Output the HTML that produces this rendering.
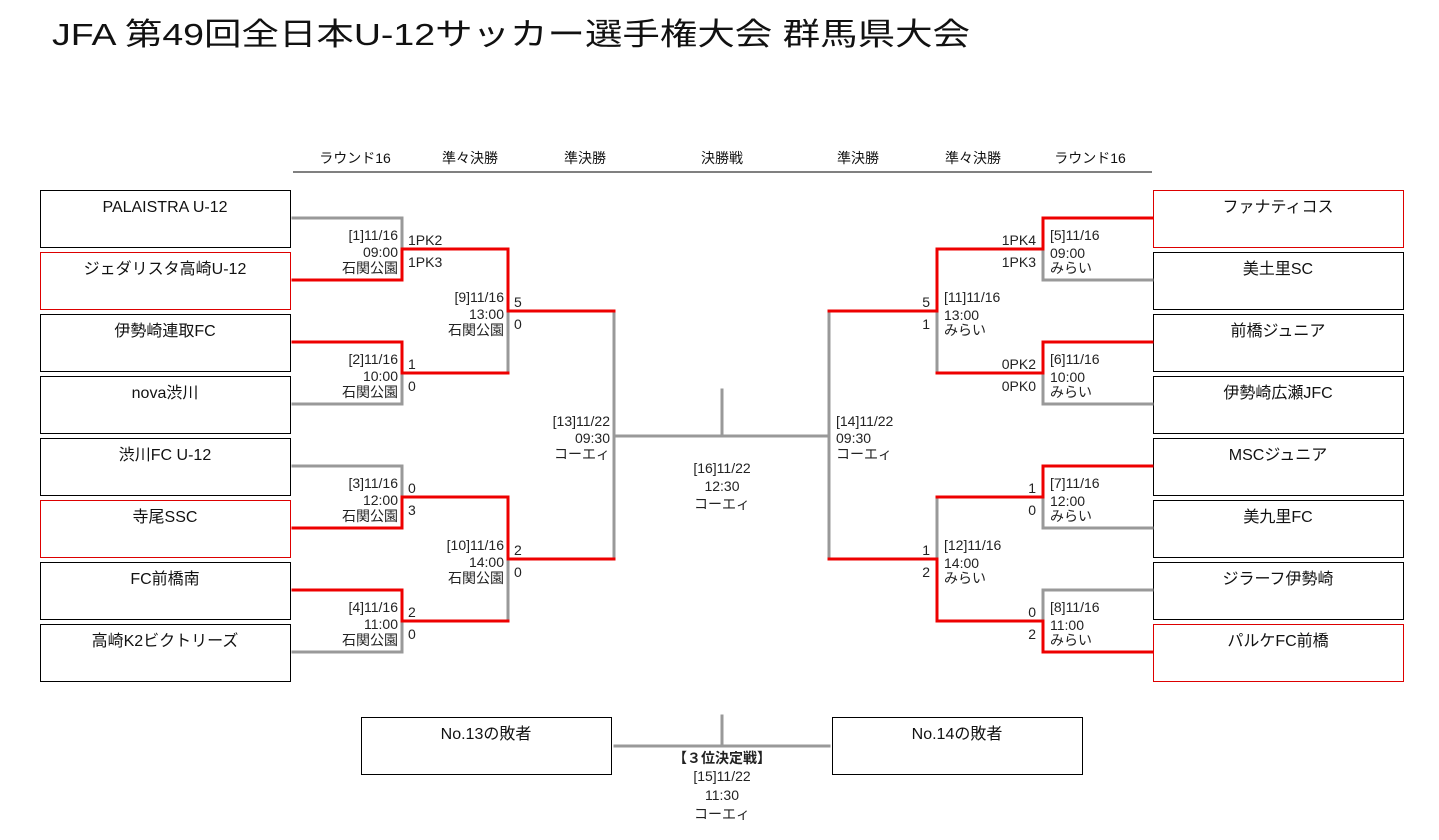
<!DOCTYPE html>
<html><head><meta charset="utf-8"><style>
html,body{margin:0;padding:0;background:#fff;}
svg{display:block;font-family:"Liberation Sans","Noto Sans CJK JP",sans-serif;}
.g{stroke:#999;stroke-width:3;fill:none;stroke-linecap:square}
.r{stroke:#e00;stroke-width:3;fill:none;stroke-linecap:square}
.s{font-size:14px;fill:#222;}
.t{font-size:16px;fill:#111;}
.h{font-size:14px;fill:#111;}
</style></head><body>
<svg width="1439" height="840" viewBox="0 0 1439 840">
<text x="52" y="45" font-size="31" fill="#111" textLength="918" lengthAdjust="spacingAndGlyphs">JFA 第49回全日本U-12サッカー選手権大会 群馬県大会</text>
<g class="h" text-anchor="middle">
<text x="355" y="163">ラウンド16</text><text x="470" y="163">準々決勝</text><text x="585" y="163">準決勝</text>
<text x="722" y="163">決勝戦</text><text x="858" y="163">準決勝</text><text x="973" y="163">準々決勝</text><text x="1090" y="163">ラウンド16</text>
</g>
<line x1="293" y1="172" x2="1152" y2="172" stroke="#000" stroke-width="1"/>
<!-- boxes left -->
<g fill="#fff" stroke-width="1">
<rect x="40.5" y="190.5" width="250" height="57" stroke="#000"/>
<rect x="40.5" y="252.5" width="250" height="57" stroke="#d00"/>
<rect x="40.5" y="314.5" width="250" height="57" stroke="#000"/>
<rect x="40.5" y="376.5" width="250" height="57" stroke="#000"/>
<rect x="40.5" y="438.5" width="250" height="57" stroke="#000"/>
<rect x="40.5" y="500.5" width="250" height="57" stroke="#d00"/>
<rect x="40.5" y="562.5" width="250" height="57" stroke="#000"/>
<rect x="40.5" y="624.5" width="250" height="57" stroke="#000"/>
<rect x="1153.5" y="190.5" width="250" height="57" stroke="#d00"/>
<rect x="1153.5" y="252.5" width="250" height="57" stroke="#000"/>
<rect x="1153.5" y="314.5" width="250" height="57" stroke="#000"/>
<rect x="1153.5" y="376.5" width="250" height="57" stroke="#000"/>
<rect x="1153.5" y="438.5" width="250" height="57" stroke="#000"/>
<rect x="1153.5" y="500.5" width="250" height="57" stroke="#000"/>
<rect x="1153.5" y="562.5" width="250" height="57" stroke="#000"/>
<rect x="1153.5" y="624.5" width="250" height="57" stroke="#d00"/>
<rect x="361.5" y="717.5" width="250" height="57" stroke="#000"/>
<rect x="832.5" y="717.5" width="250" height="57" stroke="#000"/>
</g>
<g class="t" text-anchor="middle">
<text x="165" y="212">PALAISTRA U-12</text><text x="165" y="274">ジェダリスタ高崎U-12</text>
<text x="165" y="336">伊勢崎連取FC</text><text x="165" y="398">nova渋川</text>
<text x="165" y="460">渋川FC U-12</text><text x="165" y="522">寺尾SSC</text>
<text x="165" y="584">FC前橋南</text><text x="165" y="646">高崎K2ビクトリーズ</text>
<text x="1278" y="212">ファナティコス</text><text x="1278" y="274">美土里SC</text>
<text x="1278" y="336">前橋ジュニア</text><text x="1278" y="398">伊勢崎広瀬JFC</text>
<text x="1278" y="460">MSCジュニア</text><text x="1278" y="522">美九里FC</text>
<text x="1278" y="584">ジラーフ伊勢崎</text><text x="1278" y="646">パルケFC前橋</text>
<text x="486" y="739">No.13の敗者</text><text x="957" y="739">No.14の敗者</text>
</g>
<!-- grey lines -->
<g class="g">
<polyline points="293,218 402,218 402,249"/>
<polyline points="293,404 402,404 402,373"/>
<polyline points="293,466 402,466 402,497"/>
<polyline points="293,652 402,652 402,621"/>
<line x1="508" y1="311" x2="508" y2="373"/>
<line x1="508" y1="559" x2="508" y2="621"/>
<line x1="614" y1="311" x2="614" y2="559"/>
<line x1="614" y1="436" x2="829" y2="436"/>
<line x1="722" y1="390" x2="722" y2="436"/>
<line x1="829" y1="311" x2="829" y2="559"/>
<polyline points="1152,280 1043,280 1043,249"/>
<polyline points="1152,404 1043,404 1043,373"/>
<polyline points="1152,528 1043,528 1043,497"/>
<polyline points="1152,590 1043,590 1043,621"/>
<line x1="937" y1="311" x2="937" y2="373"/>
<line x1="937" y1="497" x2="937" y2="559"/>
<line x1="615" y1="746" x2="829" y2="746"/>
<line x1="722" y1="716" x2="722" y2="746"/>
</g>
<g class="r">
<polyline points="293,280 402,280 402,249 508,249 508,311 614,311"/>
<polyline points="293,342 402,342 402,373 508,373"/>
<polyline points="293,528 402,528 402,497 508,497 508,559 614,559"/>
<polyline points="293,590 402,590 402,621 508,621"/>
<polyline points="1152,218 1043,218 1043,249 937,249 937,311 829,311"/>
<polyline points="1152,342 1043,342 1043,373 937,373"/>
<polyline points="1152,466 1043,466 1043,497 937,497"/>
<polyline points="1152,652 1043,652 1043,621 937,621 937,559 829,559"/>
</g>
<!-- labels -->
<g class="s" text-anchor="end">
<text x="398" y="240">[1]11/16</text><text x="398" y="257">09:00</text><text x="398" y="273">石関公園</text>
<text x="398" y="364">[2]11/16</text><text x="398" y="381">10:00</text><text x="398" y="397">石関公園</text>
<text x="398" y="488">[3]11/16</text><text x="398" y="505">12:00</text><text x="398" y="521">石関公園</text>
<text x="398" y="612">[4]11/16</text><text x="398" y="629">11:00</text><text x="398" y="645">石関公園</text>
<text x="504" y="302">[9]11/16</text><text x="504" y="319">13:00</text><text x="504" y="335">石関公園</text>
<text x="504" y="550">[10]11/16</text><text x="504" y="567">14:00</text><text x="504" y="583">石関公園</text>
<text x="610" y="426">[13]11/22</text><text x="610" y="443">09:30</text><text x="610" y="459">コーエィ</text>
<text x="1036" y="245">1PK4</text><text x="1036" y="267">1PK3</text>
<text x="1036" y="369">0PK2</text><text x="1036" y="391">0PK0</text>
<text x="1036" y="493">1</text><text x="1036" y="515">0</text>
<text x="1036" y="617">0</text><text x="1036" y="639">2</text>
<text x="930" y="307">5</text><text x="930" y="329">1</text>
<text x="930" y="555">1</text><text x="930" y="577">2</text>
</g>
<g class="s" text-anchor="start">
<text x="408" y="245">1PK2</text><text x="408" y="267">1PK3</text>
<text x="408" y="369">1</text><text x="408" y="391">0</text>
<text x="408" y="493">0</text><text x="408" y="515">3</text>
<text x="408" y="617">2</text><text x="408" y="639">0</text>
<text x="514" y="307">5</text><text x="514" y="329">0</text>
<text x="514" y="555">2</text><text x="514" y="577">0</text>
<text x="1050" y="240">[5]11/16</text><text x="1050" y="258">09:00</text><text x="1050" y="273">みらい</text>
<text x="1050" y="364">[6]11/16</text><text x="1050" y="382">10:00</text><text x="1050" y="397">みらい</text>
<text x="1050" y="488">[7]11/16</text><text x="1050" y="506">12:00</text><text x="1050" y="521">みらい</text>
<text x="1050" y="612">[8]11/16</text><text x="1050" y="630">11:00</text><text x="1050" y="645">みらい</text>
<text x="944" y="302">[11]11/16</text><text x="944" y="320">13:00</text><text x="944" y="335">みらい</text>
<text x="944" y="550">[12]11/16</text><text x="944" y="568">14:00</text><text x="944" y="583">みらい</text>
<text x="836" y="426">[14]11/22</text><text x="836" y="443">09:30</text><text x="836" y="459">コーエィ</text>
</g>
<g class="s" text-anchor="middle">
<text x="722" y="473">[16]11/22</text><text x="722" y="491">12:30</text><text x="722" y="509">コーエィ</text>
<text x="722" y="763" font-weight="bold">【３位決定戦】</text>
<text x="722" y="781">[15]11/22</text><text x="722" y="800">11:30</text><text x="722" y="819">コーエィ</text>
</g>
</svg>
</body></html>
